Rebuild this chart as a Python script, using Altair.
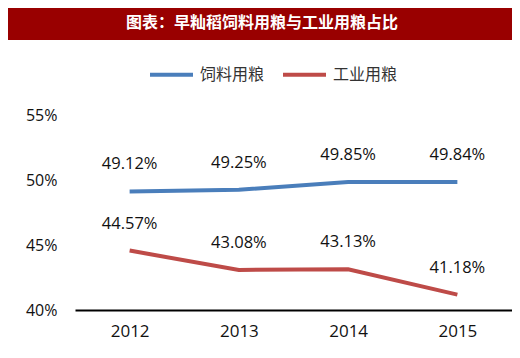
import altair as alt
import pandas as pd

years = ["2012", "2013", "2014", "2015"]
feed = [0.4912, 0.4925, 0.4985, 0.4984]
industrial = [0.4457, 0.4308, 0.4313, 0.4118]
series_names = ["饲料用粮", "工业用粮"]
series_colors = ["#4A7EBB", "#BE4B48"]
title_text = "图表：早籼稻饲料用粮与工业用粮占比"
y_ticks = [0.40, 0.45, 0.50, 0.55]

rows = []
for y, v in zip(years, feed):
    rows.append({"year": y, "series": series_names[0], "value": v})
for y, v in zip(years, industrial):
    rows.append({"year": y, "series": series_names[1], "value": v})
df = pd.DataFrame(rows)

FONT = "Open Sans"
CJK = "Noto Sans CJK SC"
W, H = 437, 195

x_enc = alt.X("year:O", scale=alt.Scale(padding=0.5),
              axis=alt.Axis(title=None, labelAngle=0, labelFont=FONT, labelFontSize=17,
                            labelColor="#111", labelPadding=13, ticks=False,
                            domainColor="#000", domainWidth=2))
y_enc = alt.Y("value:Q", scale=alt.Scale(domain=[0.40, 0.55], nice=False, zero=False),
              axis=alt.Axis(title=None, format=".0%", values=y_ticks, grid=False,
                            domain=False, ticks=False, labelPadding=18,
                            labelFont=FONT, labelFontSize=16, labelColor="#111"))

line = alt.Chart(df).mark_line(strokeWidth=4).encode(
    x=x_enc, y=y_enc,
    color=alt.Color("series:N", sort=series_names,
                    scale=alt.Scale(domain=series_names, range=series_colors),
                    legend=alt.Legend(title=None, orient="none", direction="horizontal",
                                      legendX=73, legendY=-64, symbolType="stroke",
                                      symbolSize=1849, symbolStrokeWidth=4,
                                      labelFont=CJK, labelFontSize=16, labelColor="#333",
                                      labelOffset=5, columnPadding=10, padding=0)),
)

labels = alt.Chart(df).mark_text(dy=-27, font=FONT, fontSize=16.5, color="#111").encode(
    x=alt.X("year:O"), y=alt.Y("value:Q"), text=alt.Text("value:Q", format=".2%"),
    detail="series:N",
)

banner_df = pd.DataFrame({"t": [title_text]})
banner = alt.Chart(banner_df).mark_rect(color="#990000").encode(
    x=alt.value(-67), x2=alt.value(W), y=alt.value(-107), y2=alt.value(-75)
)
banner_text = alt.Chart(banner_df).mark_text(color="white", font=CJK, fontSize=16,
                                             fontWeight="bold", baseline="middle",
                                             align="center").encode(
    x=alt.value(187), y=alt.value(-92), text="t:N"
)

chart = alt.layer(banner, banner_text, line, labels).properties(
    width=W, height=H,
    background="white",
    autosize=alt.AutoSizeParams(type="none"),
    padding={"left": 67, "top": 107, "right": 0, "bottom": 40},
).configure_view(stroke=None)

chart.save("out.html", embed_options={"renderer": "svg", "actions": False})
